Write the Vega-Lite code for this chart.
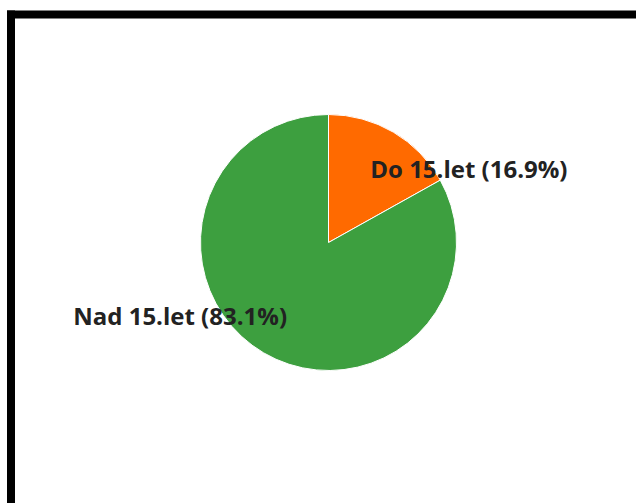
{
  "$schema": "https://vega.github.io/schema/vega-lite/v6.json",
  "width": 625,
  "height": 488.5,
  "autosize": {"type": "none"},
  "padding": {"left": 11, "top": 14.5, "right": 0, "bottom": 0},
  "background": "#ffffff",
  "view": {"stroke": null, "fill": "#ffffff"},
  "data": {
    "values": [
      {"grupa": "Do 15.let", "podil": 16.9, "label": "Do 15.let (16.9%)"},
      {"grupa": "Nad 15.let", "podil": 83.1, "label": "Nad 15.let (83.1%)"}
    ]
  },
  "layer": [
    {
      "mark": {"type": "arc", "radius": 128, "x": {"expr": "width/2 + 5"}, "y": {"expr": "height/2 - 16.25"}, "stroke": "#ffffff", "strokeWidth": 1},
      "encoding": {
        "theta": {"field": "podil", "type": "quantitative", "stack": true},
        "color": {"field": "grupa", "type": "nominal", "scale": {"domain": ["Do 15.let", "Nad 15.let"], "range": ["#ff6a00", "#3d9f3f"]}, "legend": null}
      }
    },
    {
      "mark": {"type": "text", "radius": 162, "thetaOffset": 0.569, "x": {"expr": "width/2 + 5"}, "y": {"expr": "height/2 - 16.25"}, "dx": -4, "dy": 2, "font": "Open Sans", "fontWeight": "bold", "fontSize": 24, "fill": "#222222"},
      "encoding": {
        "theta": {"field": "podil", "type": "quantitative", "stack": true},
        "detail": {"field": "grupa", "type": "nominal"},
        "text": {"field": "label", "type": "nominal"}
      }
    },
    {
      "data": {"values": [{}]},
      "mark": {"type": "rule", "stroke": "#000000", "strokeWidth": 8, "strokeCap": "butt"},
      "encoding": {
        "x": {"datum": -0.0064, "type": "quantitative", "scale": {"domain": [0, 1], "nice": false, "zero": false}, "axis": null},
        "x2": {"datum": 1},
        "y": {"datum": 1, "type": "quantitative", "scale": {"domain": [0, 1], "nice": false, "zero": false}, "axis": null}
      }
    },
    {
      "data": {"values": [{}]},
      "mark": {"type": "rule", "stroke": "#000000", "strokeWidth": 8, "strokeCap": "butt"},
      "encoding": {
        "x": {"datum": 0, "type": "quantitative", "axis": null},
        "y": {"datum": 0, "type": "quantitative", "axis": null},
        "y2": {"datum": 1.0082}
      }
    }
  ]
}
